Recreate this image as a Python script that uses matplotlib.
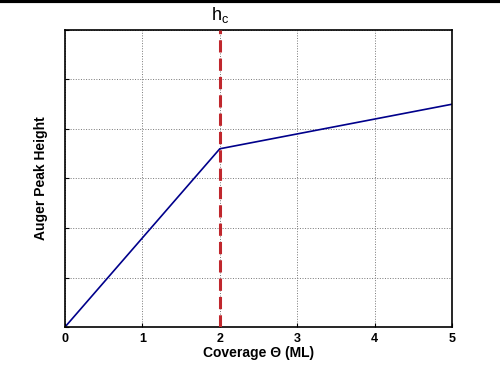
import matplotlib
matplotlib.use("Agg")
import matplotlib.pyplot as plt

# piecewise growth: layer-by-layer up to h_c, then slower
coverage = [0, 2, 5]
peak_height = [0, 3.6, 4.5]
h_c = 2
x_ticks = [0, 1, 2, 3, 4, 5]
y_ticks = [0, 1, 2, 3, 4, 5, 6]

plt.rcParams['font.family'] = ['Liberation Sans', 'DejaVu Sans']

fig = plt.figure(figsize=(5, 3.69), dpi=100)
ax = fig.add_axes([0.13, 0.1138, 0.774, 0.805])

ax.plot(coverage, peak_height, color='#00008b', linewidth=1.2)
ax.axvline(h_c, color='#c0272d', linestyle=(0, (4, 2)), linewidth=2.2, zorder=3)

ax.set_xlim(0, 5)
ax.set_ylim(0, 6)
ax.set_xticks(x_ticks)
ax.set_yticks(y_ticks)
ax.set_yticklabels([])
ax.tick_params(direction='in', length=3, width=0.8, labelsize=9, pad=4)
for lbl in ax.get_xticklabels():
    lbl.set_fontweight('bold')
ax.grid(True, color='#777777', linestyle=':', linewidth=0.7)
for sp in ax.spines.values():
    sp.set_linewidth(1.2)

ax.set_xlabel('Coverage Θ (ML)', fontsize=10, fontweight='bold', labelpad=1)
ax.set_ylabel('Auger Peak Height', fontsize=10, fontweight='bold', labelpad=8)
ax.text(h_c, 6.1, '$\\mathregular{h_c}$', ha='center', va='bottom', fontsize=13)

# thin black band along the top edge
fig.add_artist(plt.Line2D([0, 1], [0.997, 0.997], color='black', linewidth=3, transform=fig.transFigure))

fig.savefig('out.png', dpi=100, facecolor='white')
